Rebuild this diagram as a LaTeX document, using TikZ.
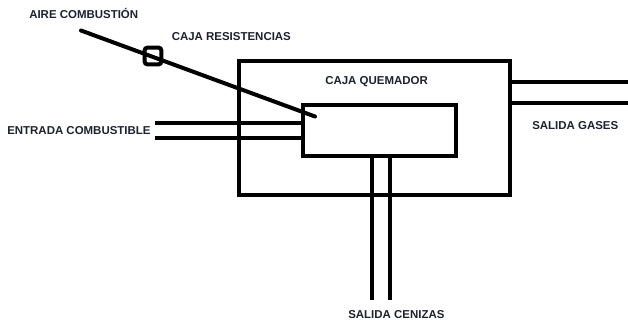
\documentclass[tikz,border=0pt]{standalone}
\usepackage{fontspec}
\setmainfont{Liberation Sans}
\definecolor{labink}{HTML}{1C2230}
\tikzset{
  x=0.75pt,y=-0.75pt,
  thick line/.style={line width=3pt,black},
  box/.style={draw=black,line width=3pt,fill=none,inner sep=0pt,outer sep=0pt,minimum width=#1},
  lab/.style={inner sep=0pt,font=\fontsize{8.6}{10}\selectfont\bfseries,text=labink}
}
\begin{document}
\begin{tikzpicture}
\useasboundingbox (0,0) rectangle (628,322);
\fill[white] (0,0) rectangle (628,322);
\node[box=271*0.75pt,minimum height=133.5*0.75pt,anchor=north west] (outer) at (239,61) {};
\node[box=153*0.75pt,minimum height=51.5*0.75pt,anchor=north west] (inner) at (303,104.5) {};
\coordinate (airStart) at (81,30.5);
\coordinate (airEnd) at (315,116.5);
\draw[thick line,line cap=round] (airStart) -- (airEnd);
\node[draw=black,line width=3pt,rounded corners=2pt,minimum width=12.5pt,minimum height=12.5pt,inner sep=0pt,outer sep=0pt] (res) at (153,56) {};
\coordinate (f1) at (155,123); \coordinate (f2) at (155,138);
\draw[thick line] (f1) -- (f1 -| inner.west);
\draw[thick line] (f2) -- (f2 -| inner.west);
\coordinate (g1) at (628,82); \coordinate (g2) at (628,103);
\draw[thick line] (g1 -| outer.east) -- (g1);
\draw[thick line] (g2 -| outer.east) -- (g2);
\coordinate (c1) at (371.7,300); \coordinate (c2) at (389.5,300);
\draw[thick line] (c1 |- inner.south) -- (c1);
\draw[thick line] (c2 |- inner.south) -- (c2);
\node[lab,anchor=west] (t1) at (29,13) {AIRE COMBUSTIÓN};
\node[lab,anchor=west] (t2) at (171.5,37) {CAJA RESISTENCIAS};
\node[lab,anchor=west] (t3) at (7,130.5) {ENTRADA COMBUSTIBLE};
\node[lab,anchor=west] (t4) at (325,81.5) {CAJA QUEMADOR};
\node[lab,anchor=west] (t5) at (532,125.5) {SALIDA GASES};
\node[lab,anchor=west] (t6) at (348,314.5) {SALIDA CENIZAS};
\end{tikzpicture}
\end{document}
